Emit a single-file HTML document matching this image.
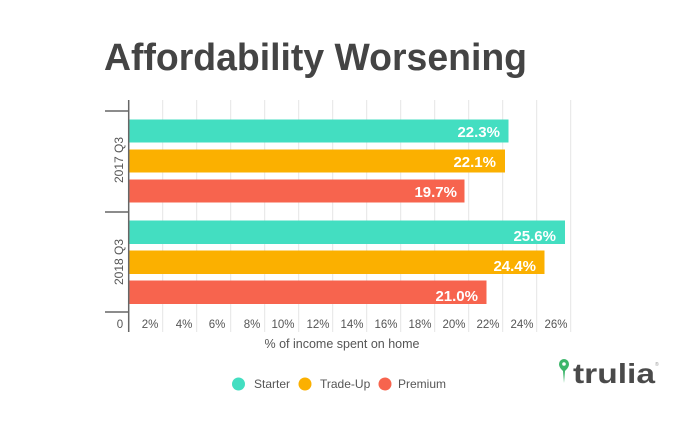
<!DOCTYPE html>
<html><head><style>
body{margin:0;background:#fff;width:690px;height:419px;overflow:hidden;font-family:"Liberation Sans",sans-serif;}
</style></head><body>
<svg width="690" height="419" xmlns="http://www.w3.org/2000/svg" font-family="Liberation Sans, sans-serif">
<text x="104" y="70" font-size="38" font-weight="bold" fill="#444" textLength="423" lengthAdjust="spacingAndGlyphs">Affordability Worsening</text>
<g stroke="#e4e4e4" stroke-width="1">
<line x1="162.7" y1="100" x2="162.7" y2="332"/><line x1="196.7" y1="100" x2="196.7" y2="332"/>
<line x1="230.7" y1="100" x2="230.7" y2="332"/><line x1="264.7" y1="100" x2="264.7" y2="332"/>
<line x1="298.7" y1="100" x2="298.7" y2="332"/><line x1="332.7" y1="100" x2="332.7" y2="332"/>
<line x1="366.7" y1="100" x2="366.7" y2="332"/><line x1="400.7" y1="100" x2="400.7" y2="332"/>
<line x1="434.7" y1="100" x2="434.7" y2="332"/><line x1="468.7" y1="100" x2="468.7" y2="332"/>
<line x1="502.7" y1="100" x2="502.7" y2="332"/><line x1="536.7" y1="100" x2="536.7" y2="332"/>
<line x1="570.7" y1="100" x2="570.7" y2="332"/>
</g>
<g stroke="#666" stroke-width="1.5">
<line x1="128.7" y1="100" x2="128.7" y2="332"/>
<line x1="105" y1="111" x2="128.7" y2="111"/>
<line x1="105" y1="212" x2="128.7" y2="212"/>
<line x1="105" y1="312" x2="128.7" y2="312"/>
</g>
<rect x="129.5" y="119.5" width="379" height="23" fill="#43dec1"/>
<rect x="129.5" y="149.5" width="375.5" height="23" fill="#fbb000"/>
<rect x="129.5" y="179.5" width="335" height="23" fill="#f7644e"/>
<rect x="129.5" y="220.5" width="435.5" height="23.5" fill="#43dec1"/>
<rect x="129.5" y="250.5" width="415" height="23.5" fill="#fbb000"/>
<rect x="129.5" y="280.5" width="357" height="23.5" fill="#f7644e"/>
<g fill="#fff" font-size="15" font-weight="bold" text-anchor="end">
<text x="500" y="137">22.3%</text><text x="496" y="167">22.1%</text><text x="457" y="197">19.7%</text>
<text x="556" y="241">25.6%</text><text x="536" y="271">24.4%</text><text x="478" y="301">21.0%</text>
</g>
<g fill="#555" font-size="12">
<text transform="translate(123,160) rotate(-90)" text-anchor="middle">2017 Q3</text>
<text transform="translate(123,262) rotate(-90)" text-anchor="middle">2018 Q3</text>
</g>
<g fill="#555" font-size="11.5" text-anchor="middle">
<text x="120" y="328">0</text><text x="150" y="328">2%</text><text x="184" y="328">4%</text>
<text x="217" y="328">6%</text><text x="252" y="328">8%</text><text x="283" y="328">10%</text>
<text x="318" y="328">12%</text><text x="352" y="328">14%</text><text x="386" y="328">16%</text>
<text x="420" y="328">18%</text><text x="454" y="328">20%</text><text x="488" y="328">22%</text>
<text x="522" y="328">24%</text><text x="556" y="328">26%</text>
</g>
<text x="342" y="348" fill="#555" font-size="12.5" text-anchor="middle">% of income spent on home</text>
<circle cx="238.5" cy="384" r="6.5" fill="#43dec1"/>
<text x="254" y="388" fill="#555" font-size="12">Starter</text>
<circle cx="305" cy="384" r="6.5" fill="#fbb000"/>
<text x="320" y="388" fill="#555" font-size="12">Trade-Up</text>
<circle cx="385" cy="384" r="6.5" fill="#f7644e"/>
<text x="398" y="388" fill="#555" font-size="12">Premium</text>
<path d="M564 359 a5 5 0 0 1 5 5 c0 3 -2 5 -4 7 l-1 12 l-1 -12 c-2 -2 -4 -4 -4 -7 a5 5 0 0 1 5 -5 z" fill="#3db66b"/>
<circle cx="564" cy="364" r="1.8" fill="#fff"/>
<text x="573" y="383" fill="#4a4a4a" font-size="28" font-weight="bold" textLength="82" lengthAdjust="spacingAndGlyphs">trulia</text>
<text x="655" y="366" fill="#999" font-size="5">®</text>
</svg>
</body></html>
